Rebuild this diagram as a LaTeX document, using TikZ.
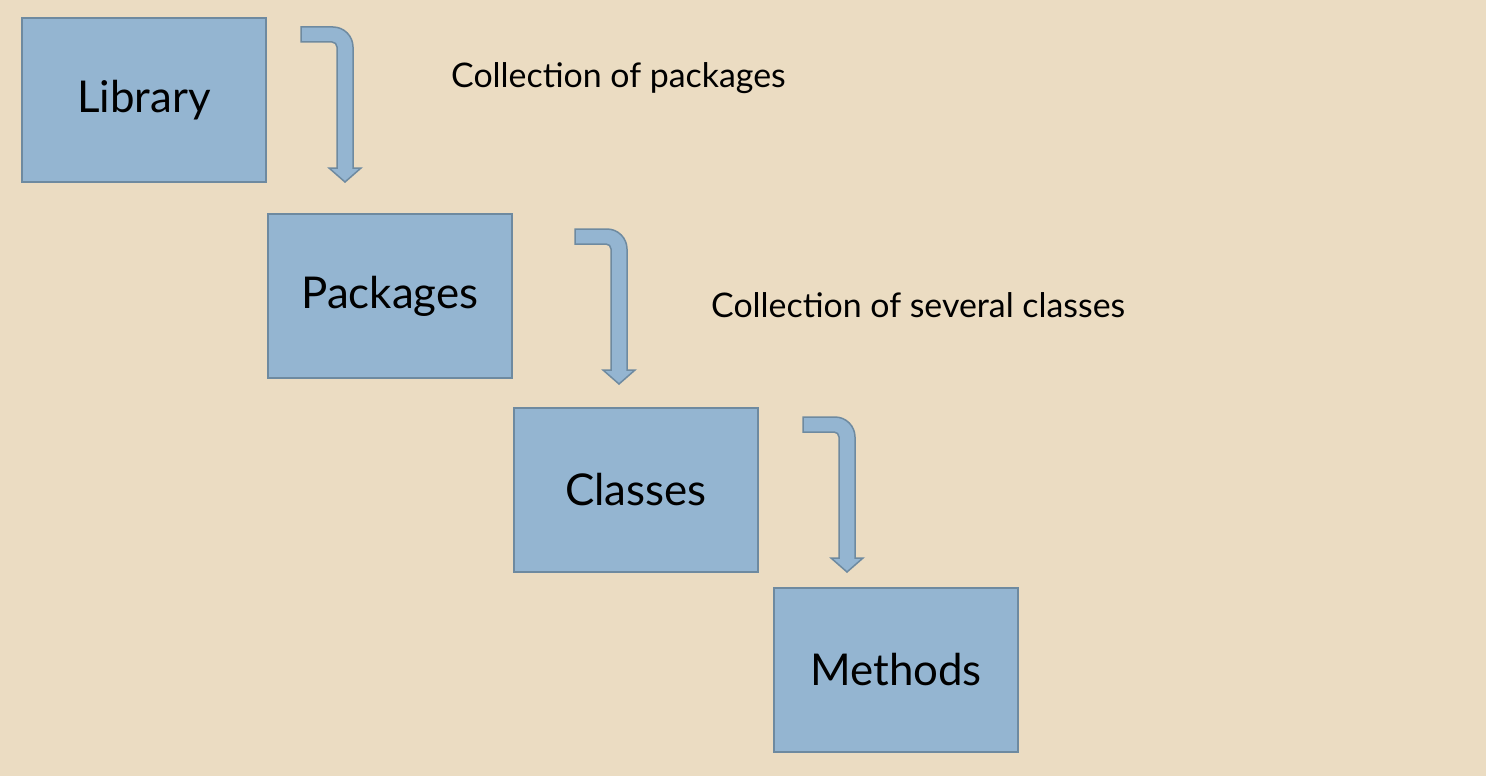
\documentclass[tikz,border=0pt]{standalone}
\usepackage{fontspec}
\setmainfont{Lato}
\definecolor{bgc}{HTML}{EBDCC2}
\definecolor{boxfill}{HTML}{94B5D1}
\definecolor{boxline}{HTML}{6E8AA0}
\tikzset{
  x=1bp, y=-1bp,
  levelbox/.style={draw=boxline, line width=1.5bp, fill=boxfill, minimum width=244bp, minimum height=164bp, inner sep=0pt, font=\fontsize{44}{50}\selectfont, text=black},
  note/.style={inner sep=0pt, font=\fontsize{34}{40}\selectfont, text=black},
  pics/bentarrow/.style={code={
    \filldraw[fill=boxfill, draw=boxline, line width=1.5bp, line join=miter]
      (0,0) -- (32,0) .. controls (43,0) and (52,9) .. (52,20)
      -- (52,141) -- (60,141) -- (44,155) -- (28,141) -- (36,141)
      -- (36,20) .. controls (36,17.2) and (33.8,15) .. (31,15)
      -- (0,15) -- cycle;
  }}
}
\begin{document}
\begin{tikzpicture}
\fill[bgc] (0,0) rectangle (1486,776);
\useasboundingbox (0,0) rectangle (1486,776);
\node[levelbox] (lib) at (144,100) {Library};
\node[levelbox] (pkg) at (390,296) {Packages};
\node[levelbox] (cls) at (636,490) {Classes};
\node[levelbox] (mth) at (896,670) {Methods};
\coordinate (a1) at (301,27);
\coordinate (a2) at (575,229);
\coordinate (a3) at (803,417);
\pic at (a1) {bentarrow};
\pic at (a2) {bentarrow};
\pic at (a3) {bentarrow};
\node[note, anchor=west] (n1) at (451,78) {Collec\kern0pt tion of packages};
\node[note, anchor=west] (n2) at (711,305) {Collec\kern0pt tion of several classes};
\end{tikzpicture}
\end{document}
